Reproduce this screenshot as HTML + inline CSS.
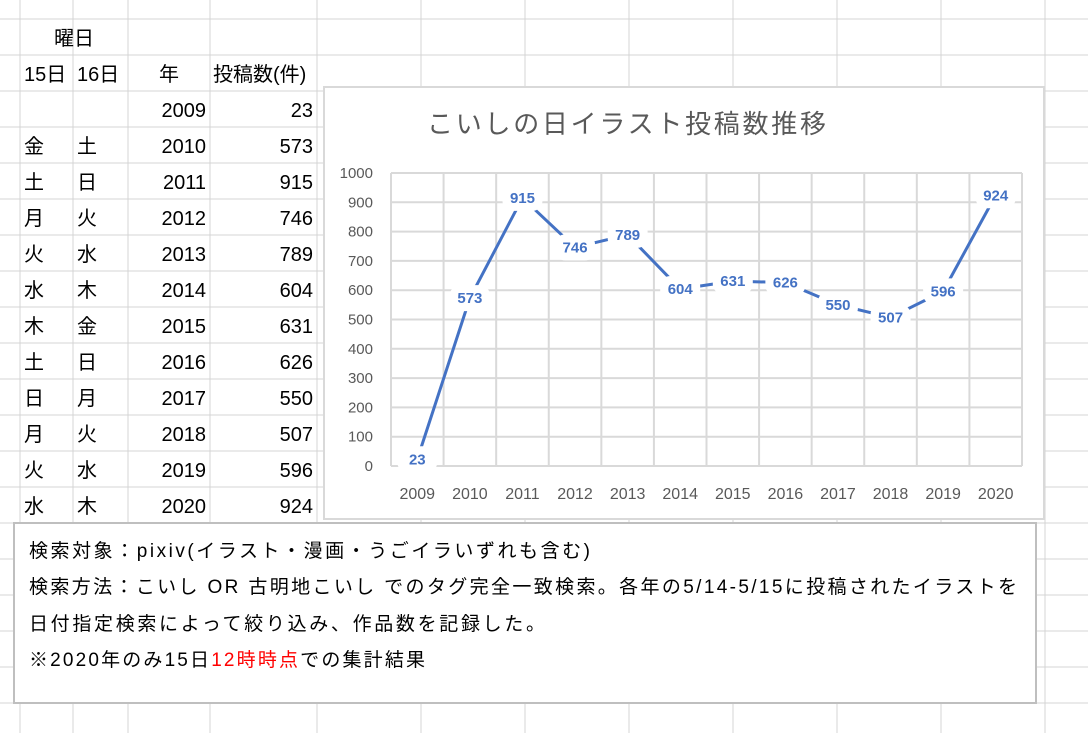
<!DOCTYPE html>
<html><head><meta charset="utf-8">
<style>
html,body{margin:0;padding:0;background:#fff;}
svg{display:block;font-family:"Liberation Sans","Noto Sans CJK JP",sans-serif;}
</style></head>
<body>
<svg id="s" width="1088" height="733" viewBox="0 0 1088 733" xmlns="http://www.w3.org/2000/svg">
<g id="grid"></g>
<g id="cells" font-size="20" fill="#000"></g>
<g id="chart">
  <rect x="324" y="87" width="720" height="432" fill="#fff" stroke="#d9d9d9" stroke-width="2"/>
  <text x="427" y="133" font-size="26" fill="#595959" textLength="399" lengthAdjust="spacing">こいしの日イラスト投稿数推移</text>
  <g id="plot"></g>
</g>
<g>
  <rect x="14" y="523" width="1022" height="180" fill="#fff" stroke="#bfbfbf" stroke-width="2"/>
  <text x="29" y="557" font-size="19" textLength="561" lengthAdjust="spacing">検索対象：pixiv(イラスト・漫画・うごイラいずれも含む)</text>
  <text x="29" y="593" font-size="19" textLength="988" lengthAdjust="spacing">検索方法：こいし OR 古明地こいし でのタグ完全一致検索。各年の5/14-5/15に投稿されたイラストを</text>
  <text x="29" y="630" font-size="19" textLength="516" lengthAdjust="spacing">日付指定検索によって絞り込み、作品数を記録した。</text>
  <text x="29" y="666" font-size="19" textLength="396" lengthAdjust="spacing">※2020年のみ15日<tspan fill="#ff0000">12時時点</tspan>での集計結果</text>
</g>
</svg>
<script>
const years = ["2009","2010","2011","2012","2013","2014","2015","2016","2017","2018","2019","2020"];
const counts = [23,573,915,746,789,604,631,626,550,507,596,924];
const day15 = ["","金","土","月","火","水","木","土","日","月","火","水"];
const day16 = ["","土","日","火","水","木","金","日","月","火","水","木"];
const yTicks = [0,100,200,300,400,500,600,700,800,900,1000];

const NS="http://www.w3.org/2000/svg";
function mk(tag,attrs,parent,txt){const e=document.createElementNS(NS,tag);for(const k in attrs)e.setAttribute(k,attrs[k]);if(txt!==undefined)e.textContent=txt;parent.appendChild(e);return e;}

const grid=document.getElementById('grid');
const cols=[20,73,128,210,317,421,525,629,733,837,941,1045];
cols.forEach(x=>mk('line',{x1:x,y1:0,x2:x,y2:733,stroke:'#d4d4d4','stroke-width':1},grid));
for(let y=19;y<740;y+=36) mk('line',{x1:0,y1:y,x2:1088,y2:y,stroke:'#d4d4d4','stroke-width':1},grid);

const cells=document.getElementById('cells');
function rowY(i){return 19+36*i+26;}
let t;
t=mk('text',{x:74,y:rowY(0),'text-anchor':'middle'},cells,'曜日');


t=mk('text',{x:24,y:rowY(1)},cells,'15日');


t=mk('text',{x:77,y:rowY(1)},cells,'16日');


t=mk('text',{x:169,y:rowY(1),'text-anchor':'middle'},cells,'年');


t=mk('text',{x:213,y:rowY(1)},cells,'投稿数(件)');


years.forEach((yr,i)=>{
  const y=rowY(i+2);
  let a=mk('text',{x:24,y:y},cells,day15[i]);
  
  
  a=mk('text',{x:77,y:y},cells,day16[i]);
  
  
  a=mk('text',{x:206,y:y,'text-anchor':'end'},cells,yr);
  
  
  a=mk('text',{x:313,y:y,'text-anchor':'end'},cells,String(counts[i]));
  
  
});

const plot=document.getElementById('plot');
const L=391,R=1022,T=173,B=466,yMax=1000;
const bw=(R-L)/years.length;
const xc=i=>L+bw*(i+0.5);
const ys=v=>B-(v/yMax)*(B-T);
yTicks.forEach(v=>{
  const g=mk('line',{x1:L,x2:R,y1:ys(v),y2:ys(v),stroke:'#d9d9d9','stroke-width':2},plot);
  
  
  const l=mk('text',{x:373,y:ys(v)+5,'text-anchor':'end','font-size':15,fill:'#595959'},plot,String(v));
  
  
});
for(let i=0;i<=years.length;i++){
  const g=mk('line',{x1:L+bw*i,x2:L+bw*i,y1:T,y2:B,stroke:'#d9d9d9','stroke-width':2},plot);
  
  
}
years.forEach((yr,i)=>{
  const l=mk('text',{x:xc(i),y:499,'text-anchor':'middle','font-size':16,fill:'#595959'},plot,yr);
  
  
});
const pts=counts.map((v,i)=>xc(i)+','+ys(v)).join(' ');
const line=mk('polyline',{points:pts,fill:'none',stroke:'#4472c4','stroke-width':3,'stroke-linejoin':'round'},plot);


counts.forEach((v,i)=>{
  const bg=mk('rect',{x:xc(i)-20,y:ys(v)-13,width:40,height:26,rx:10,fill:'#fff'},plot);
  
  
  const l=mk('text',{x:xc(i),y:ys(v)+5,'text-anchor':'middle','font-size':15,'font-weight':'bold',fill:'#4472c4'},plot,String(v));
  
  
});
</script>
</body></html>
